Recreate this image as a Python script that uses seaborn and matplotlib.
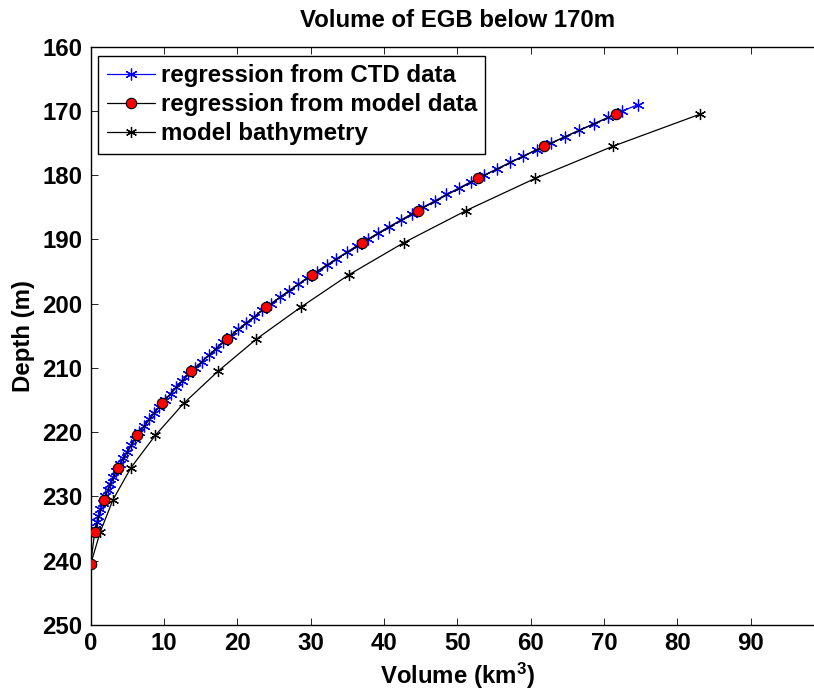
import numpy as np
import pandas as pd
import matplotlib
matplotlib.use("Agg")
import matplotlib.pyplot as plt
import seaborn as sns

# ---- data ----
ctd_depth = list(range(169, 236))
ctd_volume = [74.7, 72.5, 70.6, 68.6, 66.6, 64.7, 62.8, 60.9, 59.0, 57.2,
              55.4, 53.7, 51.9, 50.2, 48.5, 46.9, 45.3, 43.8, 42.3, 40.7,
              39.2, 37.8, 36.3, 34.9, 33.5, 32.2, 30.8, 29.5, 28.3, 27.0,
              25.8, 24.6, 23.4, 22.3, 21.2, 20.1, 19.1, 18.0, 17.1, 16.1,
              15.2, 14.2, 13.3, 12.5, 11.7, 10.9, 10.1, 9.35, 8.6, 7.9,
              7.3, 6.65, 6.05, 5.5, 4.95, 4.45, 3.95, 3.5, 3.05, 2.65,
              2.3, 1.95, 1.62, 1.32, 1.05, 0.8, 0.6]

model_depth = [170.5, 175.5, 180.5, 185.5, 190.5, 195.5, 200.5, 205.5,
               210.5, 215.5, 220.5, 225.5, 230.5, 235.5, 240.5]
model_reg_volume = [71.57, 61.8, 52.8, 44.6, 37.0, 30.15, 23.96, 18.55,
                    13.73, 9.69, 6.36, 3.72, 1.77, 0.55, 0.0]
bathy_volume = [83.1, 71.2, 60.6, 51.2, 42.7, 35.2, 28.7, 22.6,
                17.37, 12.69, 8.8, 5.5, 3.04, 1.31, 0.0]

labels = ["regression from CTD data", "regression from model data", "model bathymetry"]
title = "Volume of EGB below 170m"
xticks = [0, 10, 20, 30, 40, 50, 60, 70, 80, 90]
yticks = [160, 170, 180, 190, 200, 210, 220, 230, 240, 250]

df_ctd = pd.DataFrame({"volume": ctd_volume, "depth": ctd_depth})
df_reg = pd.DataFrame({"volume": model_reg_volume, "depth": model_depth})
df_bat = pd.DataFrame({"volume": bathy_volume, "depth": model_depth})

sns.set_style("ticks")
plt.rcParams["font.family"] = ["Liberation Sans", "DejaVu Sans"]
plt.rcParams["font.weight"] = "bold"
plt.rcParams["text.color"] = "black"
plt.rcParams["axes.labelcolor"] = "black"
plt.rcParams["xtick.color"] = "black"
plt.rcParams["ytick.color"] = "black"
plt.rcParams["mathtext.fontset"] = "custom"
plt.rcParams["mathtext.bf"] = "Liberation Sans:bold"
plt.rcParams["mathtext.rm"] = "Liberation Sans:bold"
plt.rcParams["mathtext.default"] = "bf"

FS = 17.3

fig = plt.figure(figsize=(8.14, 6.95), dpi=100)
ax = fig.add_axes([90.7 / 814, 70 / 695, 733.3 / 814, 578.3 / 695])

asterisk = (6, 2, 0)

sns.lineplot(data=df_ctd, x="volume", y="depth", ax=ax, sort=False, estimator=None,
             color="blue", lw=0.9, marker=asterisk, markersize=8.5,
             markeredgecolor="blue", markeredgewidth=0.9, label=labels[0], zorder=2)
sns.lineplot(data=df_bat, x="volume", y="depth", ax=ax, sort=False, estimator=None,
             color="black", lw=0.9, marker=asterisk, markersize=8,
             markeredgecolor="black", markeredgewidth=0.9, label=labels[2], zorder=3)
sns.lineplot(data=df_reg, x="volume", y="depth", ax=ax, sort=False, estimator=None,
             color="black", lw=0.9, marker="o", markersize=7.5,
             markerfacecolor="red", markeredgecolor="black", markeredgewidth=0.8,
             label=labels[1], zorder=4)

ax.set_xlim(0, 100)
ax.set_ylim(250, 160)
ax.set_xticks(xticks)
ax.set_yticks(yticks)
ax.tick_params(axis="both", which="both", direction="in", length=4.8, width=0.7,
               top=True, right=True, labelsize=FS, color="#222222",
               labelcolor="black")
ax.tick_params(axis="x", pad=5)
ax.tick_params(axis="y", pad=6)
for lab in ax.get_xticklabels() + ax.get_yticklabels():
    lab.set_fontweight("bold")
for sp in ax.spines.values():
    sp.set_visible(True)
    sp.set_linewidth(1.0)
    sp.set_color("black")

ax.set_title(title, fontsize=FS, fontweight="bold", pad=14, color="black")
ax.set_xlabel("Volume (km$^3$)", fontsize=FS, fontweight="bold", labelpad=4, color="black")
ax.set_ylabel("Depth (m)", fontsize=FS, fontweight="bold", labelpad=5, color="black")

handles, labs = ax.get_legend_handles_labels()
order = [labs.index(l) for l in labels]
leg = ax.legend([handles[i] for i in order], [labs[i] for i in order],
                loc="upper left", bbox_to_anchor=(98.3 / 814, 1 - 55.7 / 695),
                bbox_transform=fig.transFigure, fontsize=FS, frameon=True,
                fancybox=False, framealpha=1, edgecolor="black",
                handlelength=2.0, handletextpad=0.25, labelspacing=0.25,
                borderpad=0.35, borderaxespad=0)
leg.get_frame().set_linewidth(1.0)
for t in leg.get_texts():
    t.set_fontweight("bold")
    t.set_color("black")

fig.savefig("out.png", dpi=100)
